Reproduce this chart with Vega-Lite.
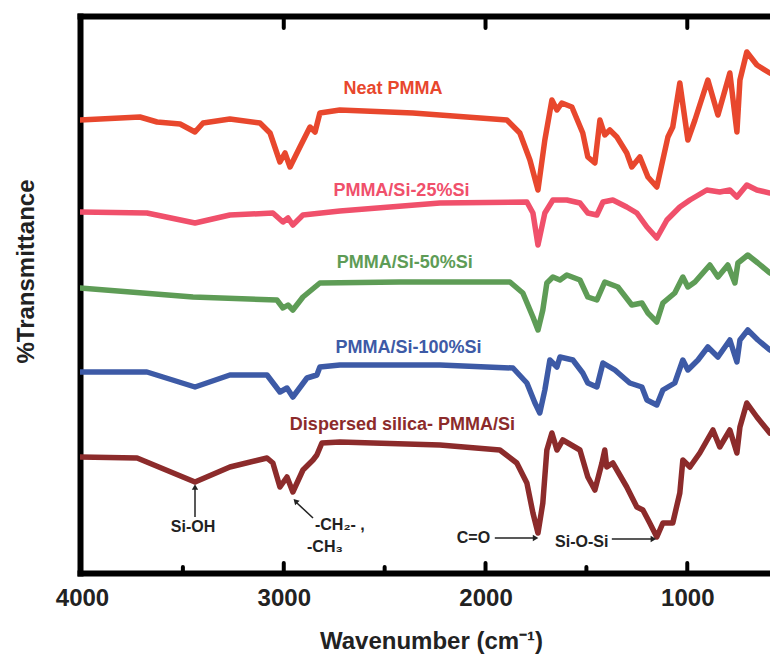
{
  "$schema": "https://vega.github.io/schema/vega-lite/v6.json",
  "width": 690,
  "height": 557,
  "autosize": {"type": "none"},
  "padding": {"left": 80, "top": 16, "right": 0, "bottom": 84},
  "background": "white",
  "config": {"view": {"stroke": null}, "font": "Liberation Sans"},
  "datasets": {
    "spectra": [
      {"series": "Neat PMMA", "wn": 4010, "t": 453}, {"series": "Neat PMMA", "wn": 3713, "t": 456}, {"series": "Neat PMMA", "wn": 3628, "t": 451}, {"series": "Neat PMMA", "wn": 3514, "t": 449}, {"series": "Neat PMMA", "wn": 3440, "t": 441}, {"series": "Neat PMMA", "wn": 3400, "t": 450}, {"series": "Neat PMMA", "wn": 3267, "t": 454}, {"series": "Neat PMMA", "wn": 3118, "t": 450}, {"series": "Neat PMMA", "wn": 3068, "t": 440}, {"series": "Neat PMMA", "wn": 3019, "t": 411}, {"series": "Neat PMMA", "wn": 2994, "t": 420}, {"series": "Neat PMMA", "wn": 2969, "t": 406}, {"series": "Neat PMMA", "wn": 2920, "t": 426}, {"series": "Neat PMMA", "wn": 2870, "t": 446}, {"series": "Neat PMMA", "wn": 2845, "t": 441}, {"series": "Neat PMMA", "wn": 2821, "t": 460}, {"series": "Neat PMMA", "wn": 2722, "t": 463}, {"series": "Neat PMMA", "wn": 2360, "t": 460}, {"series": "Neat PMMA", "wn": 1894, "t": 453}, {"series": "Neat PMMA", "wn": 1830, "t": 440}, {"series": "Neat PMMA", "wn": 1780, "t": 413}, {"series": "Neat PMMA", "wn": 1740, "t": 383}, {"series": "Neat PMMA", "wn": 1706, "t": 433}, {"series": "Neat PMMA", "wn": 1671, "t": 473}, {"series": "Neat PMMA", "wn": 1646, "t": 463}, {"series": "Neat PMMA", "wn": 1622, "t": 470}, {"series": "Neat PMMA", "wn": 1572, "t": 466}, {"series": "Neat PMMA", "wn": 1518, "t": 440}, {"series": "Neat PMMA", "wn": 1493, "t": 416}, {"series": "Neat PMMA", "wn": 1458, "t": 410}, {"series": "Neat PMMA", "wn": 1433, "t": 453}, {"series": "Neat PMMA", "wn": 1409, "t": 438}, {"series": "Neat PMMA", "wn": 1384, "t": 443}, {"series": "Neat PMMA", "wn": 1349, "t": 436}, {"series": "Neat PMMA", "wn": 1300, "t": 420}, {"series": "Neat PMMA", "wn": 1275, "t": 406}, {"series": "Neat PMMA", "wn": 1235, "t": 416}, {"series": "Neat PMMA", "wn": 1195, "t": 396}, {"series": "Neat PMMA", "wn": 1151, "t": 386}, {"series": "Neat PMMA", "wn": 1096, "t": 436}, {"series": "Neat PMMA", "wn": 1072, "t": 446}, {"series": "Neat PMMA", "wn": 1037, "t": 490}, {"series": "Neat PMMA", "wn": 997, "t": 433}, {"series": "Neat PMMA", "wn": 962, "t": 453}, {"series": "Neat PMMA", "wn": 898, "t": 493}, {"series": "Neat PMMA", "wn": 848, "t": 458}, {"series": "Neat PMMA", "wn": 789, "t": 500}, {"series": "Neat PMMA", "wn": 754, "t": 441}, {"series": "Neat PMMA", "wn": 739, "t": 493}, {"series": "Neat PMMA", "wn": 705, "t": 521}, {"series": "Neat PMMA", "wn": 655, "t": 508}, {"series": "Neat PMMA", "wn": 591, "t": 500},

      {"series": "PMMA/Si-25%Si", "wn": 4010, "t": 361}, {"series": "PMMA/Si-25%Si", "wn": 3678, "t": 360}, {"series": "PMMA/Si-25%Si", "wn": 3440, "t": 350}, {"series": "PMMA/Si-25%Si", "wn": 3267, "t": 358}, {"series": "PMMA/Si-25%Si", "wn": 3054, "t": 360}, {"series": "PMMA/Si-25%Si", "wn": 3004, "t": 351}, {"series": "PMMA/Si-25%Si", "wn": 2979, "t": 355}, {"series": "PMMA/Si-25%Si", "wn": 2955, "t": 348}, {"series": "PMMA/Si-25%Si", "wn": 2905, "t": 358}, {"series": "PMMA/Si-25%Si", "wn": 2722, "t": 362}, {"series": "PMMA/Si-25%Si", "wn": 2226, "t": 370}, {"series": "PMMA/Si-25%Si", "wn": 1795, "t": 371}, {"series": "PMMA/Si-25%Si", "wn": 1765, "t": 360}, {"series": "PMMA/Si-25%Si", "wn": 1740, "t": 328}, {"series": "PMMA/Si-25%Si", "wn": 1706, "t": 360}, {"series": "PMMA/Si-25%Si", "wn": 1666, "t": 373}, {"series": "PMMA/Si-25%Si", "wn": 1597, "t": 373}, {"series": "PMMA/Si-25%Si", "wn": 1532, "t": 370}, {"series": "PMMA/Si-25%Si", "wn": 1493, "t": 360}, {"series": "PMMA/Si-25%Si", "wn": 1448, "t": 358}, {"series": "PMMA/Si-25%Si", "wn": 1418, "t": 371}, {"series": "PMMA/Si-25%Si", "wn": 1369, "t": 373}, {"series": "PMMA/Si-25%Si", "wn": 1300, "t": 366}, {"series": "PMMA/Si-25%Si", "wn": 1250, "t": 360}, {"series": "PMMA/Si-25%Si", "wn": 1200, "t": 346}, {"series": "PMMA/Si-25%Si", "wn": 1151, "t": 335}, {"series": "PMMA/Si-25%Si", "wn": 1101, "t": 353}, {"series": "PMMA/Si-25%Si", "wn": 1037, "t": 366}, {"series": "PMMA/Si-25%Si", "wn": 987, "t": 373}, {"series": "PMMA/Si-25%Si", "wn": 903, "t": 383}, {"series": "PMMA/Si-25%Si", "wn": 839, "t": 381}, {"series": "PMMA/Si-25%Si", "wn": 789, "t": 383}, {"series": "PMMA/Si-25%Si", "wn": 754, "t": 376}, {"series": "PMMA/Si-25%Si", "wn": 705, "t": 388}, {"series": "PMMA/Si-25%Si", "wn": 655, "t": 383}, {"series": "PMMA/Si-25%Si", "wn": 591, "t": 380},

      {"series": "PMMA/Si-50%Si", "wn": 4010, "t": 285}, {"series": "PMMA/Si-50%Si", "wn": 3450, "t": 276}, {"series": "PMMA/Si-50%Si", "wn": 3034, "t": 273}, {"series": "PMMA/Si-50%Si", "wn": 3004, "t": 265}, {"series": "PMMA/Si-50%Si", "wn": 2979, "t": 268}, {"series": "PMMA/Si-50%Si", "wn": 2955, "t": 263}, {"series": "PMMA/Si-50%Si", "wn": 2905, "t": 276}, {"series": "PMMA/Si-50%Si", "wn": 2821, "t": 290}, {"series": "PMMA/Si-50%Si", "wn": 2424, "t": 291}, {"series": "PMMA/Si-50%Si", "wn": 1879, "t": 291}, {"series": "PMMA/Si-50%Si", "wn": 1815, "t": 280}, {"series": "PMMA/Si-50%Si", "wn": 1765, "t": 256}, {"series": "PMMA/Si-50%Si", "wn": 1740, "t": 243}, {"series": "PMMA/Si-50%Si", "wn": 1716, "t": 263}, {"series": "PMMA/Si-50%Si", "wn": 1696, "t": 290}, {"series": "PMMA/Si-50%Si", "wn": 1666, "t": 296}, {"series": "PMMA/Si-50%Si", "wn": 1631, "t": 293}, {"series": "PMMA/Si-50%Si", "wn": 1597, "t": 298}, {"series": "PMMA/Si-50%Si", "wn": 1532, "t": 293}, {"series": "PMMA/Si-50%Si", "wn": 1493, "t": 276}, {"series": "PMMA/Si-50%Si", "wn": 1448, "t": 273}, {"series": "PMMA/Si-50%Si", "wn": 1409, "t": 291}, {"series": "PMMA/Si-50%Si", "wn": 1344, "t": 286}, {"series": "PMMA/Si-50%Si", "wn": 1275, "t": 268}, {"series": "PMMA/Si-50%Si", "wn": 1225, "t": 270}, {"series": "PMMA/Si-50%Si", "wn": 1195, "t": 260}, {"series": "PMMA/Si-50%Si", "wn": 1151, "t": 251}, {"series": "PMMA/Si-50%Si", "wn": 1121, "t": 270}, {"series": "PMMA/Si-50%Si", "wn": 1062, "t": 280}, {"series": "PMMA/Si-50%Si", "wn": 1022, "t": 296}, {"series": "PMMA/Si-50%Si", "wn": 997, "t": 286}, {"series": "PMMA/Si-50%Si", "wn": 962, "t": 291}, {"series": "PMMA/Si-50%Si", "wn": 888, "t": 308}, {"series": "PMMA/Si-50%Si", "wn": 848, "t": 296}, {"series": "PMMA/Si-50%Si", "wn": 799, "t": 308}, {"series": "PMMA/Si-50%Si", "wn": 764, "t": 290}, {"series": "PMMA/Si-50%Si", "wn": 749, "t": 310}, {"series": "PMMA/Si-50%Si", "wn": 700, "t": 318}, {"series": "PMMA/Si-50%Si", "wn": 650, "t": 310}, {"series": "PMMA/Si-50%Si", "wn": 591, "t": 300},

      {"series": "PMMA/Si-100%Si", "wn": 4010, "t": 201}, {"series": "PMMA/Si-100%Si", "wn": 3678, "t": 201}, {"series": "PMMA/Si-100%Si", "wn": 3440, "t": 186}, {"series": "PMMA/Si-100%Si", "wn": 3267, "t": 198}, {"series": "PMMA/Si-100%Si", "wn": 3083, "t": 198}, {"series": "PMMA/Si-100%Si", "wn": 3019, "t": 181}, {"series": "PMMA/Si-100%Si", "wn": 2984, "t": 185}, {"series": "PMMA/Si-100%Si", "wn": 2955, "t": 176}, {"series": "PMMA/Si-100%Si", "wn": 2885, "t": 195}, {"series": "PMMA/Si-100%Si", "wn": 2836, "t": 198}, {"series": "PMMA/Si-100%Si", "wn": 2821, "t": 206}, {"series": "PMMA/Si-100%Si", "wn": 2722, "t": 208}, {"series": "PMMA/Si-100%Si", "wn": 2226, "t": 208}, {"series": "PMMA/Si-100%Si", "wn": 1864, "t": 205}, {"series": "PMMA/Si-100%Si", "wn": 1795, "t": 190}, {"series": "PMMA/Si-100%Si", "wn": 1755, "t": 170}, {"series": "PMMA/Si-100%Si", "wn": 1731, "t": 160}, {"series": "PMMA/Si-100%Si", "wn": 1706, "t": 183}, {"series": "PMMA/Si-100%Si", "wn": 1681, "t": 213}, {"series": "PMMA/Si-100%Si", "wn": 1646, "t": 206}, {"series": "PMMA/Si-100%Si", "wn": 1631, "t": 216}, {"series": "PMMA/Si-100%Si", "wn": 1567, "t": 213}, {"series": "PMMA/Si-100%Si", "wn": 1518, "t": 200}, {"series": "PMMA/Si-100%Si", "wn": 1493, "t": 190}, {"series": "PMMA/Si-100%Si", "wn": 1448, "t": 186}, {"series": "PMMA/Si-100%Si", "wn": 1418, "t": 210}, {"series": "PMMA/Si-100%Si", "wn": 1359, "t": 203}, {"series": "PMMA/Si-100%Si", "wn": 1285, "t": 190}, {"series": "PMMA/Si-100%Si", "wn": 1225, "t": 186}, {"series": "PMMA/Si-100%Si", "wn": 1200, "t": 173}, {"series": "PMMA/Si-100%Si", "wn": 1151, "t": 168}, {"series": "PMMA/Si-100%Si", "wn": 1121, "t": 183}, {"series": "PMMA/Si-100%Si", "wn": 1062, "t": 190}, {"series": "PMMA/Si-100%Si", "wn": 1022, "t": 213}, {"series": "PMMA/Si-100%Si", "wn": 997, "t": 203}, {"series": "PMMA/Si-100%Si", "wn": 947, "t": 213}, {"series": "PMMA/Si-100%Si", "wn": 898, "t": 226}, {"series": "PMMA/Si-100%Si", "wn": 848, "t": 216}, {"series": "PMMA/Si-100%Si", "wn": 789, "t": 233}, {"series": "PMMA/Si-100%Si", "wn": 754, "t": 211}, {"series": "PMMA/Si-100%Si", "wn": 739, "t": 233}, {"series": "PMMA/Si-100%Si", "wn": 700, "t": 243}, {"series": "PMMA/Si-100%Si", "wn": 650, "t": 233}, {"series": "PMMA/Si-100%Si", "wn": 591, "t": 223},

      {"series": "Dispersed silica- PMMA/Si", "wn": 4010, "t": 116}, {"series": "Dispersed silica- PMMA/Si", "wn": 3727, "t": 115}, {"series": "Dispersed silica- PMMA/Si", "wn": 3440, "t": 91}, {"series": "Dispersed silica- PMMA/Si", "wn": 3267, "t": 106}, {"series": "Dispersed silica- PMMA/Si", "wn": 3083, "t": 115}, {"series": "Dispersed silica- PMMA/Si", "wn": 3054, "t": 110}, {"series": "Dispersed silica- PMMA/Si", "wn": 3019, "t": 86}, {"series": "Dispersed silica- PMMA/Si", "wn": 2984, "t": 96}, {"series": "Dispersed silica- PMMA/Si", "wn": 2955, "t": 81}, {"series": "Dispersed silica- PMMA/Si", "wn": 2905, "t": 103}, {"series": "Dispersed silica- PMMA/Si", "wn": 2855, "t": 113}, {"series": "Dispersed silica- PMMA/Si", "wn": 2836, "t": 118}, {"series": "Dispersed silica- PMMA/Si", "wn": 2811, "t": 130}, {"series": "Dispersed silica- PMMA/Si", "wn": 2722, "t": 131}, {"series": "Dispersed silica- PMMA/Si", "wn": 2226, "t": 128}, {"series": "Dispersed silica- PMMA/Si", "wn": 1929, "t": 123}, {"series": "Dispersed silica- PMMA/Si", "wn": 1845, "t": 110}, {"series": "Dispersed silica- PMMA/Si", "wn": 1795, "t": 90}, {"series": "Dispersed silica- PMMA/Si", "wn": 1765, "t": 60}, {"series": "Dispersed silica- PMMA/Si", "wn": 1740, "t": 40}, {"series": "Dispersed silica- PMMA/Si", "wn": 1716, "t": 70}, {"series": "Dispersed silica- PMMA/Si", "wn": 1696, "t": 123}, {"series": "Dispersed silica- PMMA/Si", "wn": 1671, "t": 140}, {"series": "Dispersed silica- PMMA/Si", "wn": 1646, "t": 123}, {"series": "Dispersed silica- PMMA/Si", "wn": 1617, "t": 133}, {"series": "Dispersed silica- PMMA/Si", "wn": 1532, "t": 123}, {"series": "Dispersed silica- PMMA/Si", "wn": 1493, "t": 96}, {"series": "Dispersed silica- PMMA/Si", "wn": 1458, "t": 83}, {"series": "Dispersed silica- PMMA/Si", "wn": 1423, "t": 110}, {"series": "Dispersed silica- PMMA/Si", "wn": 1409, "t": 123}, {"series": "Dispersed silica- PMMA/Si", "wn": 1399, "t": 106}, {"series": "Dispersed silica- PMMA/Si", "wn": 1369, "t": 110}, {"series": "Dispersed silica- PMMA/Si", "wn": 1300, "t": 86}, {"series": "Dispersed silica- PMMA/Si", "wn": 1250, "t": 66}, {"series": "Dispersed silica- PMMA/Si", "wn": 1220, "t": 63}, {"series": "Dispersed silica- PMMA/Si", "wn": 1186, "t": 50}, {"series": "Dispersed silica- PMMA/Si", "wn": 1151, "t": 36}, {"series": "Dispersed silica- PMMA/Si", "wn": 1121, "t": 50}, {"series": "Dispersed silica- PMMA/Si", "wn": 1072, "t": 50}, {"series": "Dispersed silica- PMMA/Si", "wn": 1037, "t": 80}, {"series": "Dispersed silica- PMMA/Si", "wn": 1022, "t": 113}, {"series": "Dispersed silica- PMMA/Si", "wn": 987, "t": 106}, {"series": "Dispersed silica- PMMA/Si", "wn": 938, "t": 120}, {"series": "Dispersed silica- PMMA/Si", "wn": 873, "t": 143}, {"series": "Dispersed silica- PMMA/Si", "wn": 839, "t": 126}, {"series": "Dispersed silica- PMMA/Si", "wn": 789, "t": 143}, {"series": "Dispersed silica- PMMA/Si", "wn": 754, "t": 120}, {"series": "Dispersed silica- PMMA/Si", "wn": 739, "t": 146}, {"series": "Dispersed silica- PMMA/Si", "wn": 705, "t": 170}, {"series": "Dispersed silica- PMMA/Si", "wn": 655, "t": 156}, {"series": "Dispersed silica- PMMA/Si", "wn": 591, "t": 140}
    ],
    "labels": [
      {"series": "Neat PMMA", "label": "Neat PMMA", "wn": 2459, "t": 484},
      {"series": "PMMA/Si-25%Si", "label": "PMMA/Si-25%Si", "wn": 2417, "t": 382},
      {"series": "PMMA/Si-50%Si", "label": "PMMA/Si-50%Si", "wn": 2400, "t": 310},
      {"series": "PMMA/Si-100%Si", "label": "PMMA/Si-100%Si", "wn": 2382, "t": 225},
      {"series": "Dispersed silica- PMMA/Si", "label": "Dispersed silica- PMMA/Si", "wn": 2412, "t": 148}
    ],
    "notes": [
      {"note": "Si-OH", "wn": 3450, "t": 46},
      {"note": "-CH₂- ,", "wn": 2722, "t": 48},
      {"note": "-CH₃", "wn": 2796, "t": 26},
      {"note": "C=O", "wn": 2060, "t": 35},
      {"note": "Si-O-Si", "wn": 1523, "t": 31}
    ],
    "arrows": [
      {"wn": 3440, "t": 56, "wn2": 3440, "t2": 86},
      {"wn": 2855, "t": 55, "wn2": 2940, "t2": 71},
      {"wn": 1954, "t": 35, "wn2": 1752, "t2": 35},
      {"wn": 1374, "t": 34, "wn2": 1168, "t2": 34}
    ],
    "headsUp": [{"wn": 3440, "t": 86}],
    "headsRight": [{"wn": 1752, "t": 35}, {"wn": 1168, "t": 34}],
    "headsDiag": [{"wn": 2942, "t": 72}],
    "ticks": [
      {"wn": 3000, "t": 0, "t2": 10}, {"wn": 2000, "t": 0, "t2": 10}, {"wn": 1000, "t": 0, "t2": 10},
      {"wn": 3500, "t": 0, "t2": 6}, {"wn": 2500, "t": 0, "t2": 6}, {"wn": 1500, "t": 0, "t2": 6},
      {"wn": 3000, "t": 557, "t2": 545}, {"wn": 2000, "t": 557, "t2": 545}, {"wn": 1000, "t": 557, "t2": 545}
    ]
  },
  "layer": [
    {
      "data": {"name": "spectra"},
      "mark": {"type": "line", "strokeWidth": 5.5, "strokeJoin": "round", "strokeCap": "round", "clip": true},
      "encoding": {
        "x": {
          "field": "wn", "type": "quantitative", "sort": null,
          "scale": {"domain": [4010, 590], "nice": false, "zero": false},
          "axis": {
            "orient": "bottom",
            "values": [4000, 3000, 2000, 1000],
            "format": "d",
            "grid": false,
            "ticks": false,
            "tickSize": 0,
            "domainWidth": 6,
            "domainColor": "black",
            "domainCap": "square",
            "labelFont": "Liberation Sans",
            "labelFontSize": 24,
            "labelFontWeight": "bold",
            "labelColor": "#222222",
            "labelFlush": false,
            "labelOverlap": false,
            "labelBound": false,
            "labelPadding": 13,
            "title": "Wavenumber (cm⁻¹)",
            "titleFont": "Liberation Sans",
            "titleFontSize": 24,
            "titleFontWeight": "bold",
            "titleColor": "#222222",
            "titleX": 351,
            "titleY": 75,
            "titleBaseline": "alphabetic",
            "titleAlign": "center"
          }
        },
        "y": {
          "field": "t", "type": "quantitative",
          "scale": {"domain": [0, 557], "nice": false, "zero": false},
          "axis": {
            "orient": "left",
            "ticks": false,
            "labels": false,
            "grid": false,
            "domainWidth": 6,
            "domainColor": "black",
            "domainCap": "square",
            "title": "%Transmittance",
            "titleFont": "Liberation Sans",
            "titleFontSize": 24,
            "titleFontWeight": "bold",
            "titleColor": "#222222",
            "titleAngle": 270,
            "titleX": -47,
            "titleY": 255,
            "titleBaseline": "alphabetic",
            "titleAlign": "center"
          }
        },
        "color": {
          "field": "series", "type": "nominal",
          "scale": {
            "domain": ["Neat PMMA", "PMMA/Si-25%Si", "PMMA/Si-50%Si", "PMMA/Si-100%Si", "Dispersed silica- PMMA/Si"],
            "range": ["#e8472d", "#f0506b", "#5e9c56", "#3d5aa6", "#8c2b2b"]
          },
          "legend": null
        },
        "detail": {"field": "series"}
      }
    },
    {
      "data": {"name": "labels"},
      "mark": {"type": "text", "font": "Liberation Sans", "fontSize": 18, "fontWeight": "bold", "align": "center", "baseline": "middle"},
      "encoding": {
        "x": {
          "field": "wn", "type": "quantitative",
          "axis": {
            "orient": "top",
            "labels": false,
            "ticks": false,
            "grid": false,
            "domainWidth": 6,
            "domainColor": "black",
            "domainCap": "square",
            "title": null
          }
        },
        "y": {"field": "t", "type": "quantitative"},
        "text": {"field": "label"},
        "color": {"field": "series", "type": "nominal", "legend": null}
      }
    },
    {
      "data": {"name": "ticks"},
      "mark": {"type": "rule", "strokeWidth": 4, "strokeCap": "round", "color": "black"},
      "encoding": {
        "x": {"field": "wn", "type": "quantitative", "axis": null},
        "y": {"field": "t", "type": "quantitative"},
        "y2": {"field": "t2"}
      }
    },
    {
      "data": {"name": "notes"},
      "mark": {"type": "text", "font": "Liberation Sans", "fontSize": 16, "fontWeight": "bold", "align": "center", "baseline": "middle", "color": "#222222"},
      "encoding": {
        "x": {"field": "wn", "type": "quantitative", "axis": null},
        "y": {"field": "t", "type": "quantitative"},
        "text": {"field": "note"}
      }
    },
    {
      "data": {"name": "arrows"},
      "mark": {"type": "rule", "strokeWidth": 1.5, "color": "#222222"},
      "encoding": {
        "x": {"field": "wn", "type": "quantitative", "axis": null},
        "y": {"field": "t", "type": "quantitative"},
        "x2": {"field": "wn2"},
        "y2": {"field": "t2"}
      }
    },
    {
      "data": {"name": "headsUp"},
      "mark": {"type": "point", "shape": "triangle-up", "filled": true, "size": 40, "color": "#222222", "opacity": 1},
      "encoding": {
        "x": {"field": "wn", "type": "quantitative", "axis": null},
        "y": {"field": "t", "type": "quantitative"}
      }
    },
    {
      "data": {"name": "headsRight"},
      "mark": {"type": "point", "shape": "triangle-right", "filled": true, "size": 40, "color": "#222222", "opacity": 1},
      "encoding": {
        "x": {"field": "wn", "type": "quantitative", "axis": null},
        "y": {"field": "t", "type": "quantitative"}
      }
    },
    {
      "data": {"name": "headsDiag"},
      "mark": {"type": "point", "shape": "triangle-up", "angle": -45, "filled": true, "size": 40, "color": "#222222", "opacity": 1},
      "encoding": {
        "x": {"field": "wn", "type": "quantitative", "axis": null},
        "y": {"field": "t", "type": "quantitative"}
      }
    }
  ],
  "resolve": {"axis": {"x": "independent"}}
}
